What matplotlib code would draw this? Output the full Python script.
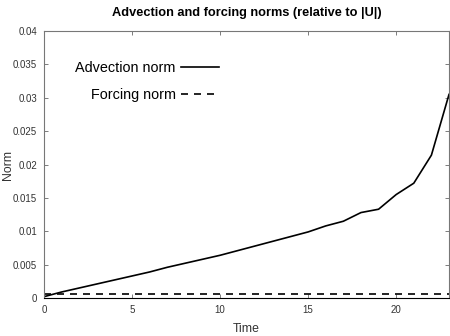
import matplotlib
matplotlib.use("Agg")
import matplotlib.pyplot as plt
from matplotlib.ticker import FuncFormatter

plt.rcParams['font.family'] = ['Liberation Sans', 'DejaVu Sans']

time = list(range(24))
advection = [0.0002, 0.0009, 0.0015, 0.0021, 0.0027, 0.0033, 0.0039, 0.0046,
             0.0052, 0.0058, 0.0064, 0.0071, 0.0078, 0.0085, 0.0092, 0.0099,
             0.0108, 0.0115, 0.0128, 0.0133, 0.0155, 0.0172, 0.0214, 0.0305]
forcing = [0.0006] * 24

fig = plt.figure(figsize=(4.5, 3.36), dpi=100)
ax = fig.add_axes([0.0978, 0.1131, 0.9, 0.7946])

ax.plot(time, advection, color='black', lw=1.2, label='Advection norm')
ax.plot(time, forcing, color='black', lw=1.2, linestyle=(0, (4.2, 3.6)),
        label='Forcing norm')

ax.set_xlim(0, 23)
ax.set_ylim(0, 0.04)
ax.set_xticks([0, 5, 10, 15, 20])
ax.set_yticks([i * 0.005 for i in range(9)])
ax.yaxis.set_major_formatter(FuncFormatter(lambda v, p: '%g' % round(v, 4)))
ax.tick_params(direction='in', length=3, width=0.6, top=True, right=True,
               labelsize=7, labelcolor='#333333', color='#666666', pad=5)
for s in ax.spines.values():
    s.set_color('#777777')
    s.set_linewidth(0.8)
ax.spines['bottom'].set_color('black')

# axis labels placed like the gnuplot original
fig.text(0.548, 1 - 329 / 336, 'Time', fontsize=8.8, color='#333333',
         ha='center', va='center')
fig.text(8 / 450, 0.51, 'Norm', fontsize=8.8, color='#333333',
         ha='center', va='center', rotation=90)
ax.set_title('Advection and forcing norms (relative to |U|)', fontsize=9.2,
             fontweight='bold', pad=11)

ax.legend(loc='upper left', bbox_to_anchor=(0.045, 0.935), frameon=False,
          markerfirst=False, fontsize=10.4, handlelength=2.6,
          handletextpad=0.4, labelspacing=0.85)

fig.savefig('out.png', dpi=100)
